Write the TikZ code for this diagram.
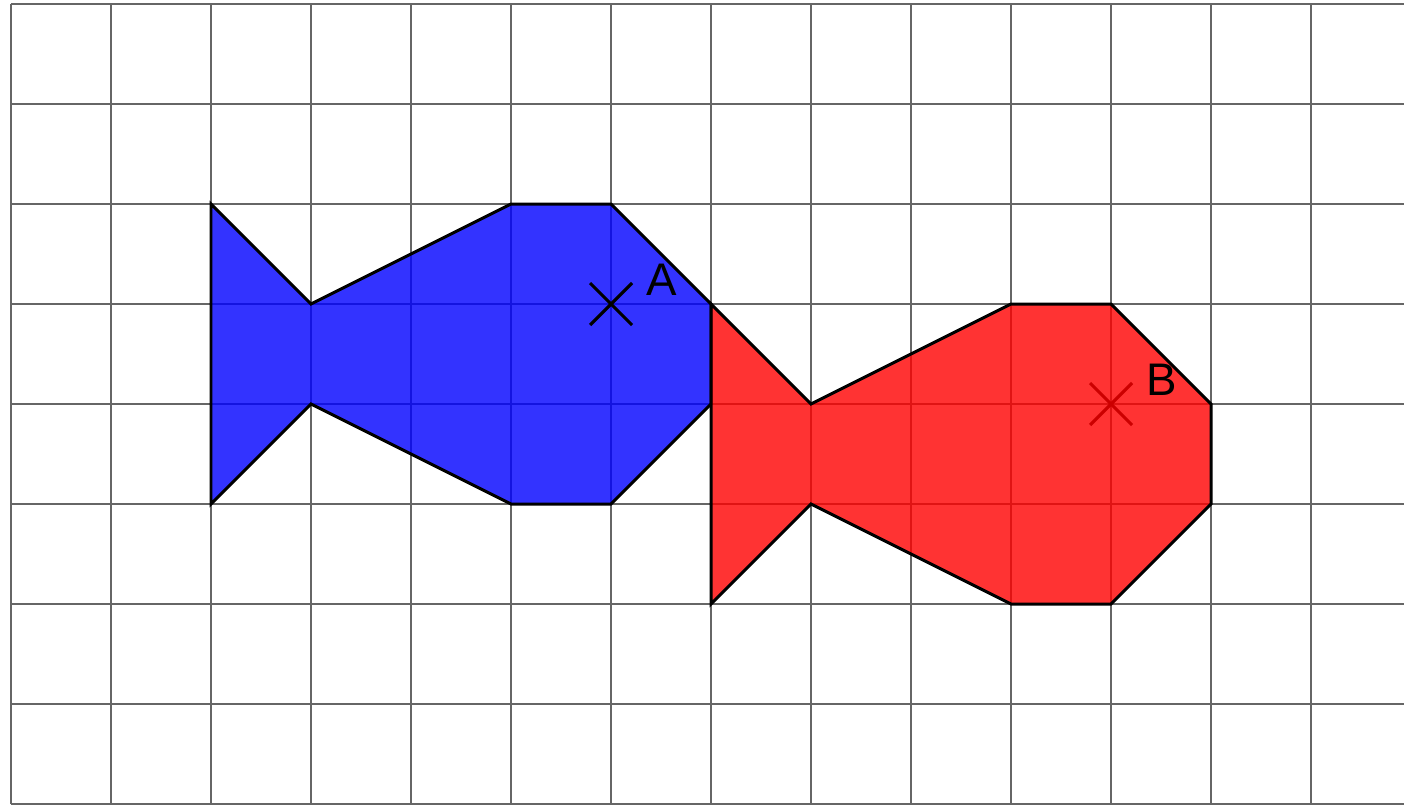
\documentclass[tikz,border=0pt]{standalone}
\usepackage{fontspec}
\setmainfont{Liberation Sans}
\usetikzlibrary{calc}
\begin{document}
\begin{tikzpicture}[x=1cm,y=-1cm,
  gridline/.style={black!60,line width=0.6pt},
  fishline/.style={black,line width=0.85pt,line join=miter},
  crossline/.style={line width=0.9pt},
  lbl/.style={font=\fontsize{13}{15}\selectfont,inner sep=0pt}]
\useasboundingbox (-0.11,-0.04) rectangle (13.93,8.01);
\begin{scope}
\clip (-0.11,-0.04) rectangle (13.93,8.01);
\draw[gridline] (0,0) grid (14,8);
\end{scope}
% blue fish
\fill[blue,opacity=0.8] (2,2) -- (3,3) -- (5,2) -- (6,2) -- (7,3) -- (7,4) -- (6,5) -- (5,5) -- (3,4) -- (2,5) -- cycle;
\draw[fishline] (2,2) -- (3,3) -- (5,2) -- (6,2) -- (7,3) -- (7,4) -- (6,5) -- (5,5) -- (3,4) -- (2,5) -- cycle;
% crosses
\coordinate (A) at (6,3);
\coordinate (B) at (11,4);
\draw[crossline] ($(A)+(-0.21,-0.21)$) -- ($(A)+(0.21,0.21)$) ($(A)+(-0.21,0.21)$) -- ($(A)+(0.21,-0.21)$);
\draw[crossline] ($(B)+(-0.21,-0.21)$) -- ($(B)+(0.21,0.21)$) ($(B)+(-0.21,0.21)$) -- ($(B)+(0.21,-0.21)$);
% red fish
\fill[red,opacity=0.8] (7,3) -- (8,4) -- (10,3) -- (11,3) -- (12,4) -- (12,5) -- (11,6) -- (10,6) -- (8,5) -- (7,6) -- cycle;
\draw[fishline] (7,3) -- (8,4) -- (10,3) -- (11,3) -- (12,4) -- (12,5) -- (11,6) -- (10,6) -- (8,5) -- (7,6) -- cycle;
\node[lbl] (la) at (6.51,2.76) {A};
\node[lbl] (lb) at (11.51,3.76) {B};
\end{tikzpicture}
\end{document}
